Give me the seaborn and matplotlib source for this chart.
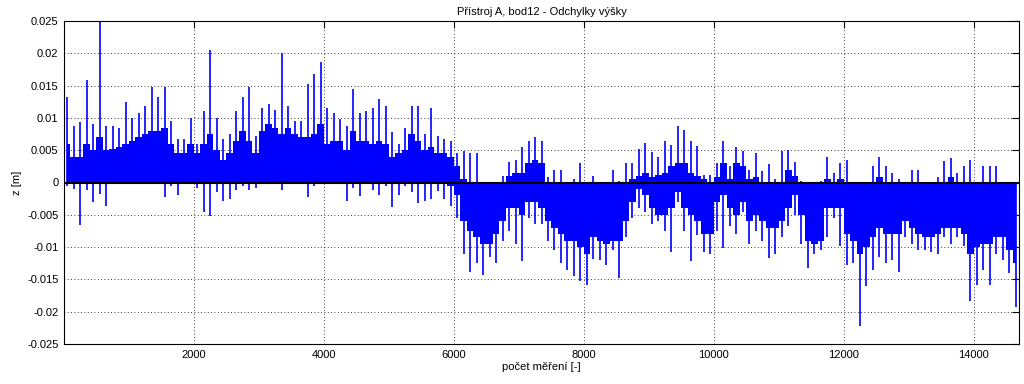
import matplotlib
matplotlib.use("Agg")
import matplotlib.pyplot as plt
import seaborn as sns
import numpy as np

# envelope of the deviations, read per block of 100 measurements
block = 100
pos_peak = [0.0132, 0.0088, 0.0093, 0.0158, 0.009, 0.025, 0.0088, 0.0088, 0.0085, 0.0124,
            0.010, 0.0108, 0.0118, 0.0148, 0.0132, 0.0148, 0.0095, 0.0068, 0.0068, 0.010,
            0.006, 0.011, 0.0205, 0.010, 0.0068, 0.0075, 0.011, 0.0132, 0.0148, 0.0072,
            0.0115, 0.0122, 0.0112, 0.0201, 0.0118, 0.0095, 0.0095, 0.0152, 0.0168, 0.0187,
            0.0115, 0.0108, 0.0098, 0.0088, 0.0144, 0.0108, 0.011, 0.0115, 0.013, 0.0118,
            0.0078, 0.006, 0.0085, 0.0118, 0.0118, 0.0075, 0.0115, 0.0072, 0.0068, 0.0065,
            0.0045, 0.0048, 0.0045, 0.0045, 0.0, 0.0, 0.0, 0.001, 0.0032, 0.0035,
            0.0055, 0.0065, 0.007, 0.0065, 0.0008, 0.002, 0.002, 0.0, 0.0005, 0.003,
            0.0, 0.001, 0.0, 0.0, 0.002, 0.0003, 0.003, 0.003, 0.0052, 0.0061,
            0.0047, 0.004, 0.0065, 0.0058, 0.0087, 0.0082, 0.0065, 0.0057, 0.0012, 0.0012,
            0.003, 0.0065, 0.0025, 0.0055, 0.0048, 0.002, 0.0045, 0.0018, 0.0028, 0.0005,
            0.0048, 0.005, 0.0032, 0.0003, 0.0, 0.0, 0.0002, 0.004, 0.0015, 0.003,
            0.0035, 0.0, 0.0, 0.0, 0.0025, 0.004, 0.0025, 0.0015, 0.0005, 0.0,
            0.002, 0.002, 0.0, 0.0, 0.0008, 0.0033, 0.0038, 0.0015, 0.0025, 0.0035,
            0.0, 0.0025, 0.0025, 0.0025, 0.0, 0.0, 0.0]
pos_body = [0.006, 0.004, 0.004, 0.006, 0.005, 0.007, 0.005, 0.0052, 0.0055, 0.006,
            0.0065, 0.007, 0.0075, 0.008, 0.008, 0.0085, 0.006, 0.0045, 0.0045, 0.006,
            0.0045, 0.006, 0.0075, 0.005, 0.0035, 0.0045, 0.0065, 0.008, 0.0065, 0.0045,
            0.008, 0.009, 0.0085, 0.0075, 0.0085, 0.0075, 0.007, 0.007, 0.0075, 0.009,
            0.006, 0.0065, 0.0065, 0.005, 0.008, 0.0065, 0.0065, 0.006, 0.0065, 0.006,
            0.004, 0.0045, 0.005, 0.0075, 0.0065, 0.005, 0.0055, 0.0045, 0.0045, 0.004,
            0.0025, 0.0005, 0.0, 0.0, 0.0, 0.0, 0.0, 0.0, 0.001, 0.0015,
            0.0015, 0.003, 0.0035, 0.003, 0.0, 0.0, 0.0, 0.0, 0.0, 0.0,
            0.0, 0.0, 0.0, 0.0, 0.0, 0.0, 0.0, 0.0005, 0.001, 0.0015,
            0.0008, 0.0012, 0.0015, 0.0025, 0.003, 0.003, 0.0015, 0.001, 0.0005, 0.0,
            0.0008, 0.003, 0.0005, 0.003, 0.0025, 0.0005, 0.0008, 0.0, 0.0, 0.0,
            0.0, 0.002, 0.001, 0.0, 0.0, 0.0, 0.0, 0.0005, 0.0, 0.0005,
            0.0, 0.0, 0.0, 0.0, 0.0, 0.0008, 0.0, 0.0, 0.0, 0.0,
            0.0, 0.0, 0.0, 0.0, 0.0, 0.0, 0.0008, 0.0, 0.0, 0.0,
            0.0, 0.0, 0.0, 0.0, 0.0, 0.0, 0.0]
neg_peak = [-0.0005, -0.001, -0.0066, -0.0012, -0.003, -0.0018, -0.0036, -0.0003, -0.0003, -0.0003,
            -0.0003, -0.0003, -0.0003, -0.0003, -0.0003, -0.0022, -0.0005, -0.002, -0.0003, -0.0003,
            -0.0008, -0.0045, -0.0052, -0.0015, -0.0028, -0.0025, -0.0012, -0.0005, -0.0012, -0.0008,
            -0.0003, -0.0003, -0.0003, -0.0012, -0.0002, -0.0002, -0.0002, -0.0022, -0.0005, -0.0002,
            -0.0002, -0.0002, -0.0002, -0.0028, -0.0008, -0.0021, -0.0003, -0.0012, -0.002, -0.0005,
            -0.0038, -0.002, -0.0005, -0.0015, -0.0032, -0.0028, -0.0025, -0.0013, -0.0025, -0.0036,
            -0.0055, -0.011, -0.0138, -0.0125, -0.0143, -0.0115, -0.0125, -0.009, -0.0075, -0.0095,
            -0.0122, -0.0055, -0.0065, -0.0065, -0.009, -0.0105, -0.0125, -0.0135, -0.0145, -0.0152,
            -0.0159, -0.0118, -0.012, -0.0127, -0.0105, -0.0148, -0.0085, -0.0055, -0.004, -0.0045,
            -0.0065, -0.006, -0.0075, -0.0108, -0.003, -0.0075, -0.0122, -0.0082, -0.0108, -0.011,
            -0.0075, -0.0102, -0.0068, -0.008, -0.0045, -0.0095, -0.0075, -0.009, -0.0117, -0.011,
            -0.0085, -0.0068, -0.005, -0.0095, -0.0133, -0.011, -0.0105, -0.0085, -0.0055, -0.0098,
            -0.0128, -0.0125, -0.0222, -0.016, -0.0135, -0.0115, -0.0125, -0.012, -0.0138, -0.0085,
            -0.0095, -0.0105, -0.0105, -0.0108, -0.011, -0.0085, -0.0095, -0.0085, -0.0098, -0.0183,
            -0.0158, -0.0135, -0.0158, -0.011, -0.012, -0.014, -0.0192]
neg_body = [0.0] * 59 + [
            -0.0005, -0.002, -0.006, -0.0075, -0.0085, -0.0095, -0.0095, -0.008, -0.006, -0.004,
            -0.004, -0.005, -0.003, -0.003, -0.004, -0.006, -0.007, -0.008, -0.009, -0.009,
            -0.01, -0.011, -0.0085, -0.009, -0.0095, -0.009, -0.009, -0.006, -0.003, -0.001,
            -0.002, -0.004, -0.005, -0.005, -0.004, -0.0015, -0.004, -0.005, -0.006, -0.008,
            -0.008, -0.003, -0.002, -0.004, -0.005, -0.003, -0.006, -0.005, -0.006, -0.007,
            -0.007, -0.006, -0.004, -0.002, -0.005, -0.009, -0.0095, -0.009, -0.004, -0.004,
            -0.004, -0.008, -0.009, -0.011, -0.01, -0.0085, -0.007, -0.008, -0.008, -0.008,
            -0.006, -0.007, -0.008, -0.0085, -0.0085, -0.008, -0.007, -0.007, -0.007, -0.008,
            -0.011, -0.01, -0.0095, -0.0095, -0.0085, -0.0085, -0.0105, -0.0125]

x_ticks = [2000, 4000, 6000, 8000, 10000, 12000, 14000]
y_ticks = [-0.025, -0.02, -0.015, -0.01, -0.005, 0, 0.005, 0.01, 0.015, 0.02, 0.025]

sns.set_style("white")
plt.rcParams["font.family"] = ["Liberation Sans", "DejaVu Sans"]
plt.rcParams["axes.unicode_minus"] = False
plt.rcParams["text.color"] = "black"
plt.rcParams["axes.labelcolor"] = "black"

x = np.arange(len(pos_peak)) * block + block / 2

fig = plt.figure(figsize=(10.24, 3.84), dpi=100)
ax = fig.add_axes([64 / 1024, 40 / 384, 955 / 1024, 323 / 384])

blue = "#0000ff"
ax.fill_between(x, 0, pos_body, step="mid", color=blue, linewidth=0)
ax.fill_between(x, 0, neg_body, step="mid", color=blue, linewidth=0)
ax.vlines(x, 0, pos_peak, color=blue, linewidth=1.2)
ax.vlines(x, 0, neg_peak, color=blue, linewidth=1.2)
ax.axhline(0, color="black", linewidth=1.5, zorder=3)

ax.set_xlim(0, 14700)
ax.set_ylim(-0.025, 0.025)
ax.set_xticks(x_ticks)
ax.set_yticks(y_ticks)
ax.set_yticklabels(["%g" % v for v in y_ticks])
ax.grid(True, color="black", linestyle=(0, (1, 3)), linewidth=0.6)
ax.tick_params(direction="in", length=5, width=0.8, labelsize=8, colors="black",
               top=True, right=True, pad=4)
for s in ax.spines.values():
    s.set_color("black")
    s.set_linewidth(0.8)

ax.set_title("Přístroj A, bod12 - Odchylky výšky", fontsize=8, pad=4)
ax.set_xlabel("počet měření [-]", fontsize=8, labelpad=2)
ax.set_ylabel("z [m]", fontsize=8, labelpad=4)

fig.savefig("out.png", dpi=100)
